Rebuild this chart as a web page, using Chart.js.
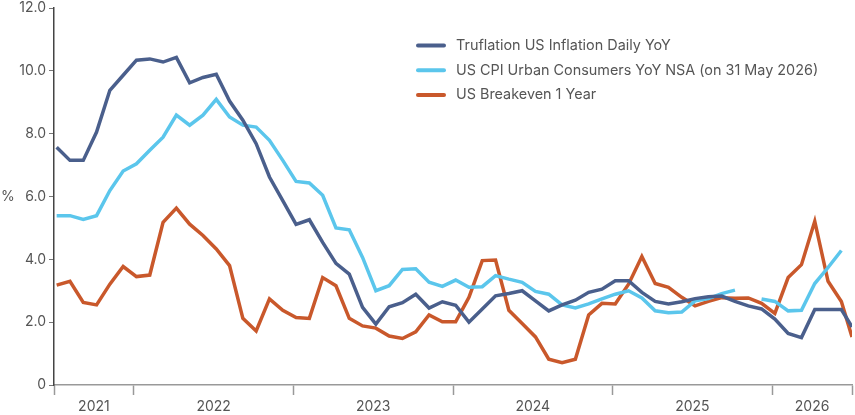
<!DOCTYPE html>
<html>
<head>
<meta charset="utf-8">
<script src="https://cdn.jsdelivr.net/npm/chart.js@4.4.1/dist/chart.umd.min.js"></script>
<style>
    html, body { margin: 0; padding: 0; background: #fff; }
    #wrap { width: 855px; height: 415px; position: relative; }
</style>
</head>
<body>
<div id="wrap"><canvas id="inflationChart"></canvas></div>
<script>
// months since 1 Jul 2021; monthly prints, last value is the latest daily reading
const monthX = Array.from({ length: 60 }, (_, i) => i + 0.2).concat([60]);

const truflation = [
    7.57, 7.15, 7.15, 8.05, 9.38, 9.86, 10.34, 10.38, 10.28, 10.43,
    9.62, 9.79, 9.89, 9.04, 8.43, 7.68, 6.62, 5.87, 5.11, 5.26,
    4.54, 3.87, 3.53, 2.47, 1.94, 2.49, 2.62, 2.89, 2.45, 2.65,
    2.54, 2.00, 2.42, 2.84, 2.91, 3.00, 2.68, 2.36, 2.55, 2.70,
    2.95, 3.05, 3.32, 3.32, 2.95, 2.66, 2.58, 2.65, 2.75, 2.81,
    2.83, 2.66, 2.52, 2.42, 2.10, 1.64, 1.51, 2.40, 2.40, 2.40,
    1.85
];

const cpiUrban = [
    5.39, 5.39, 5.27, 5.39, 6.19, 6.81, 7.04, 7.47, 7.89, 8.59,
    8.27, 8.59, 9.09, 8.53, 8.27, 8.21, 7.79, 7.15, 6.48, 6.43,
    6.04, 5.00, 4.94, 4.06, 3.00, 3.16, 3.68, 3.70, 3.27, 3.14,
    3.34, 3.11, 3.13, 3.48, 3.37, 3.27, 2.98, 2.89, 2.55, 2.45,
    2.58, 2.74, 2.89, 3.00, 2.77, 2.36, 2.30, 2.32, 2.68, 2.75,
    2.91, 3.02, null, 2.74, 2.66, 2.36, 2.38, 3.23, 3.74, 4.28
];

const breakeven1y = [
    3.18, 3.30, 2.63, 2.55, 3.21, 3.77, 3.45, 3.50, 5.18, 5.63,
    5.12, 4.76, 4.33, 3.80, 2.12, 1.72, 2.74, 2.38, 2.15, 2.12,
    3.42, 3.16, 2.12, 1.88, 1.81, 1.56, 1.48, 1.69, 2.23, 2.01,
    2.01, 2.79, 3.96, 3.98, 2.38, 1.96, 1.53, 0.82, 0.71, 0.82,
    2.23, 2.60, 2.58, 3.21, 4.09, 3.23, 3.11, 2.79, 2.52, 2.66,
    2.78, 2.76, 2.77, 2.60, 2.28, 3.42, 3.83, 5.21, 3.30, 2.66,
    1.53
];

// year labels sit mid-span, tick marks at year boundaries
const yearTicks = { 3: '2021', 12: '2022', 24: '2023', 36: '2024', 48: '2025', 57: '2026' };
const yearBounds = [0, 6, 18, 30, 42, 54, 60];

const toPoints = vals => vals.map((v, i) => ({ x: monthX[i], y: v }));

const textColor = '#555';
const fontFamily = 'Inter, "Noto Sans", sans-serif';

const insideLegend = {
    id: 'insideLegend',
    afterDraw(chart) {
        const ctx = chart.ctx;
        ctx.save();
        ctx.font = '14.4px ' + fontFamily;
        ctx.textBaseline = 'middle';
        ctx.lineCap = 'round';
        chart.data.datasets.forEach((ds, i) => {
            const y = 45.5 + i * 24.8;
            ctx.strokeStyle = ds.borderColor;
            ctx.lineWidth = 4;
            ctx.beginPath();
            ctx.moveTo(418, y);
            ctx.lineTo(444, y);
            ctx.stroke();
            ctx.fillStyle = textColor;
            ctx.fillText(ds.label, 456, y);
        });
        // unit label beside the y axis
        const yScale = chart.scales.y;
        ctx.font = '14px ' + fontFamily;
        ctx.fillText('%', 1, yScale.getPixelForValue(6));
        ctx.restore();
    }
};

const ctx = document.getElementById('inflationChart').getContext('2d');
new Chart(ctx, {
    type: 'line',
    data: {
        datasets: [
            {
                label: 'Truflation US Inflation Daily YoY',
                data: toPoints(truflation),
                borderColor: '#4a5f8c',
                borderWidth: 3.5,
                pointRadius: 0,
                tension: 0
            },
            {
                label: 'US CPI Urban Consumers YoY NSA (on 31 May 2026)',
                data: toPoints(cpiUrban),
                borderColor: '#5bc6ec',
                borderWidth: 3.5,
                pointRadius: 0,
                tension: 0
            },
            {
                label: 'US Breakeven 1 Year',
                data: toPoints(breakeven1y),
                borderColor: '#c9582b',
                borderWidth: 3.5,
                pointRadius: 0,
                tension: 0
            }
        ]
    },
    options: {
        responsive: true,
        maintainAspectRatio: false,
        animation: false,
        layout: { padding: { top: 8, right: 1, left: 0, bottom: 0 } },
        plugins: {
            legend: { display: false },
            tooltip: { enabled: false }
        },
        scales: {
            x: {
                type: 'linear',
                min: 0,
                max: 60,
                afterBuildTicks: scale => {
                    const vals = yearBounds.concat(Object.keys(yearTicks).map(Number)).sort((a, b) => a - b);
                    scale.ticks = vals.map(v => ({ value: v }));
                },
                afterFit: scale => { scale.height = 30; },
                ticks: {
                    autoSkip: false,
                    maxRotation: 0,
                    padding: 3,
                    color: textColor,
                    font: { family: fontFamily, size: 14 },
                    callback: v => yearTicks[v] || ''
                },
                grid: {
                    drawOnChartArea: false,
                    drawTicks: true,
                    tickLength: 10,
                    tickWidth: 1.5,
                    tickColor: c => (yearBounds.includes(c.tick.value) ? '#999' : 'rgba(0,0,0,0)')
                },
                border: { color: '#999', width: 1.5 }
            },
            y: {
                min: 0,
                max: 12,
                afterFit: scale => {
                    scale.width = 54;
                    scale.paddingTop = 0;
                    scale.paddingBottom = 0;
                },
                ticks: {
                    stepSize: 2,
                    padding: 3,
                    color: textColor,
                    font: { family: fontFamily, size: 14 },
                    callback: v => (v === 0 ? '0' : v.toFixed(1))
                },
                grid: {
                    drawOnChartArea: false,
                    drawTicks: true,
                    tickLength: 5,
                    tickColor: '#777'
                },
                border: { color: '#444', width: 1.5 }
            }
        }
    },
    plugins: [insideLegend]
});
</script>
</body>
</html>
